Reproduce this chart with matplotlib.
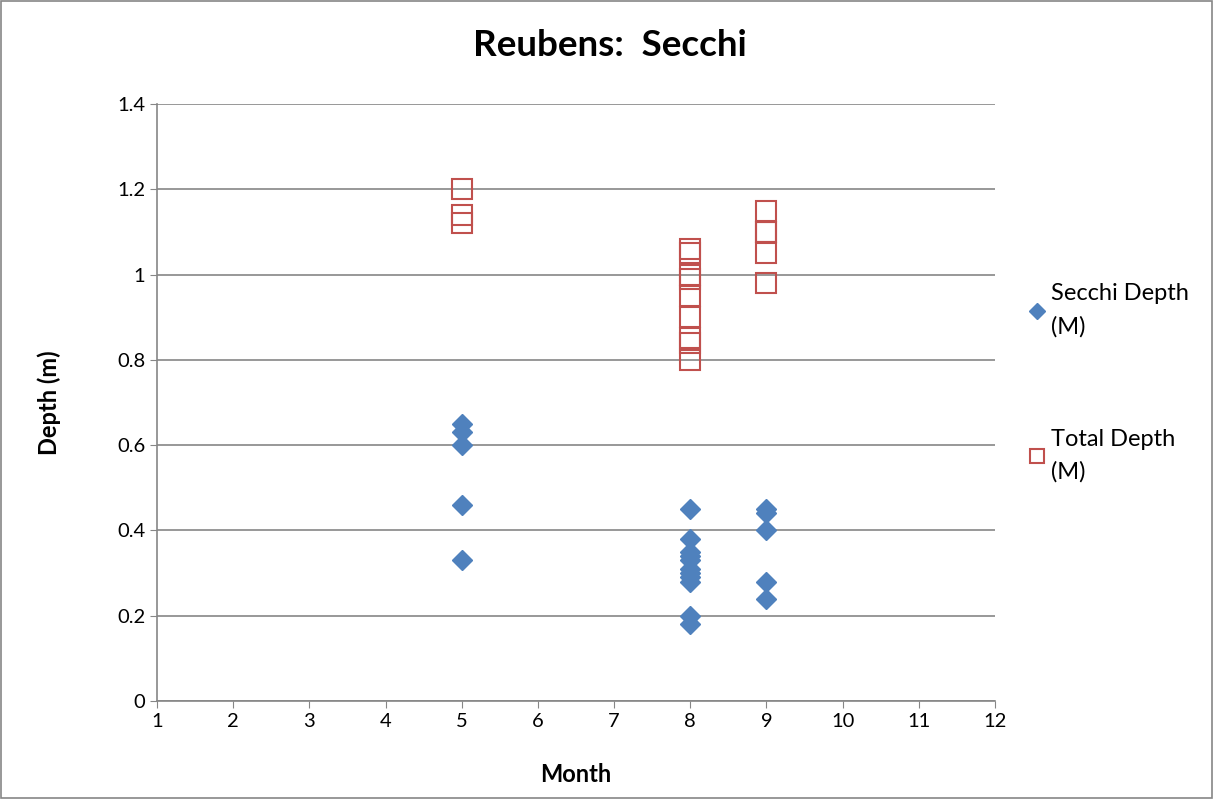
import matplotlib.pyplot as plt
from matplotlib.patches import Rectangle

plt.rcParams['font.family'] = ['Lato', 'DejaVu Sans']

# Secchi depth readings by month
secchi_month = [5, 5, 5, 5, 5,
                8, 8, 8, 8, 8, 8, 8, 8, 8, 8, 8,
                9, 9, 9, 9, 9]
secchi_depth = [0.65, 0.63, 0.60, 0.46, 0.33,
                0.45, 0.38, 0.35, 0.34, 0.33, 0.31, 0.30, 0.29, 0.28, 0.20, 0.18,
                0.45, 0.44, 0.40, 0.28, 0.24]

# Total depth readings by month
total_month = [5, 5, 5,
               8, 8, 8, 8, 8, 8, 8, 8, 8,
               9, 9, 9, 9, 9]
total_depth = [1.20, 1.14, 1.12,
               1.06, 1.05, 1.00, 0.99, 0.95, 0.90, 0.85, 0.84, 0.80,
               1.15, 1.10, 1.10, 1.05, 0.98]

blue = '#4F81BD'
red = '#C0504D'

fig = plt.figure(figsize=(12.13, 7.99), dpi=100)
ax = fig.add_axes([0.1294, 0.1227, 0.6909, 0.7472])

ax.plot(secchi_month, secchi_depth, linestyle='none', marker='D', markersize=10.5,
        color=blue, markeredgecolor=blue, label='Secchi Depth\n(M)')
ax.plot(total_month, total_depth, linestyle='none', marker='s', markersize=14,
        markerfacecolor='none', markeredgecolor=red, markeredgewidth=1.5,
        label='Total Depth\n(M)')

ax.set_xlim(1, 12)
ax.set_ylim(0, 1.4)
ax.set_xticks(range(1, 13))
ax.set_yticks([0, 0.2, 0.4, 0.6, 0.8, 1, 1.2, 1.4])
ax.set_yticklabels(['0', '0.2', '0.4', '0.6', '0.8', '1', '1.2', '1.4'])
ax.tick_params(labelsize=14.5, color='#868686', length=5)
ax.grid(axis='y', color='#868686', linewidth=1.2)
ax.set_axisbelow(True)
for s in ['top', 'right']:
    ax.spines[s].set_visible(False)
for s in ['left', 'bottom']:
    ax.spines[s].set_color('#868686')
    ax.spines[s].set_linewidth(1.2)

ax.set_xlabel('Month', fontsize=17, fontweight='bold', labelpad=24)
ax.set_ylabel('Depth (m)', fontsize=17, fontweight='bold', labelpad=40)
fig.text(0.503, 0.943, 'Reubens:  Secchi', ha='center', va='center',
         fontsize=26.5, fontweight='bold')

leg = ax.legend(loc='upper left', bbox_to_anchor=(1.012, 0.735), frameon=False,
                fontsize=17, labelspacing=3.9, handletextpad=0.15, handlelength=0.9,
                markerscale=0.75)
for t in leg.get_texts():
    t.set_linespacing(1.64)

fig.patches.append(Rectangle((0.001, 0.001), 0.998, 0.998, transform=fig.transFigure,
                             fill=False, edgecolor='#868686', linewidth=1.2))

fig.savefig('out.png', dpi=100)
